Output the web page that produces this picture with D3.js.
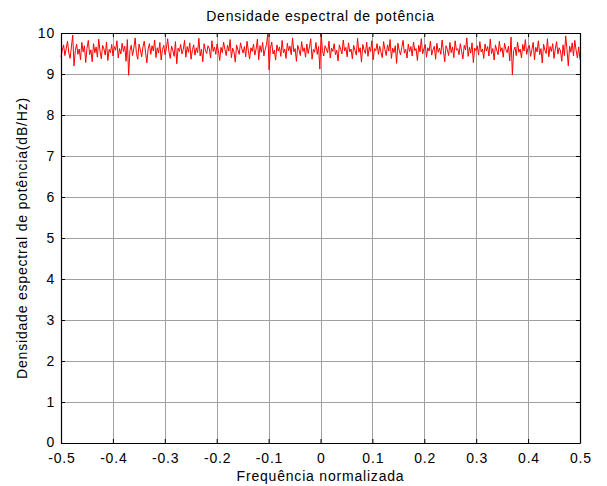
<!DOCTYPE html>
<html><head><meta charset="utf-8">
<script src="https://cdn.jsdelivr.net/npm/d3@7"></script>
<style>
body{margin:0;background:#fff;}
text{font-family:"Liberation Sans",Arial,sans-serif;}
</style></head>
<body><svg id="c" width="607" height="486"></svg>
<script>
const titleText = "Densidade espectral de potência";
const xLabel = "Frequência normalizada";
const yLabel = "Densidade espectral de potência(dB/Hz)";
const xTicks = [-0.5,-0.4,-0.3,-0.2,-0.1,0,0.1,0.2,0.3,0.4,0.5];
const yTicks = [0,1,2,3,4,5,6,7,8,9,10];
const xDomain = [-0.5, 0.5];
const yDomain = [0, 10];
const psd = [
9.42,9.58,9.71,9.45,9.62,9.80,9.51,9.38,9.66,9.95,9.20,9.57,9.73,9.48,9.61,9.35,9.77,9.54,9.69,9.28,
9.63,9.82,9.47,9.59,9.30,9.74,9.52,9.66,9.41,9.85,9.56,9.37,9.70,9.61,9.46,9.78,9.33,9.60,9.52,9.72,
9.44,9.67,9.58,9.81,9.39,9.62,9.49,9.75,9.55,9.68,9.31,9.84,8.97,9.57,9.70,9.45,9.63,9.88,9.50,9.36,
9.73,9.59,9.42,9.66,9.80,9.53,9.27,9.61,9.74,9.48,9.69,9.56,9.83,9.40,9.64,9.51,9.77,9.34,9.60,9.70,
9.47,9.62,9.86,9.54,9.38,9.68,9.57,9.43,9.79,9.25,9.63,9.55,9.72,9.49,9.60,9.82,9.41,9.67,9.53,9.76,
9.36,9.59,9.71,9.46,9.64,9.52,9.87,9.44,9.61,9.30,9.74,9.58,9.50,9.69,9.62,9.39,9.81,9.55,9.66,9.48,
9.73,9.57,9.33,9.65,9.52,9.78,9.60,9.45,9.70,9.56,9.84,9.40,9.63,9.54,9.29,9.71,9.59,9.48,9.76,9.62,
9.51,9.67,9.42,9.80,9.58,9.37,9.64,9.55,9.73,9.46,9.61,9.85,9.35,9.69,9.53,9.77,9.44,9.60,9.72,10.00,
9.10,9.63,9.78,9.49,9.58,9.34,9.71,9.56,9.66,9.43,9.82,9.52,9.61,9.38,9.75,9.57,9.68,9.47,9.88,9.54,
9.62,9.31,9.70,9.59,9.45,9.79,9.55,9.64,9.41,9.73,9.50,9.66,9.86,9.36,9.60,9.53,9.77,9.48,9.67,9.12,
10.00,9.57,9.44,9.69,9.61,9.52,9.80,9.39,9.63,9.55,9.74,9.47,9.58,9.32,9.71,9.60,9.49,9.83,9.56,9.65,
9.42,9.76,9.54,9.61,9.37,9.70,9.58,9.46,9.87,9.53,9.64,9.29,9.72,9.59,9.50,9.78,9.43,9.66,9.55,9.81,
9.35,9.62,9.57,9.74,9.48,9.68,9.53,9.40,9.79,9.60,9.45,9.71,9.56,9.84,9.38,9.63,9.52,9.69,9.26,9.75,
9.58,9.47,9.65,9.82,9.51,9.60,9.39,9.73,9.55,9.67,9.44,9.78,9.57,9.62,9.33,9.70,9.54,9.86,9.49,9.61,
9.72,9.41,9.64,9.56,9.80,9.46,9.59,9.68,9.36,9.75,9.53,9.63,9.48,9.83,9.57,9.30,9.69,9.60,9.45,9.77,
9.52,9.66,9.40,9.81,9.58,9.62,9.47,9.74,9.55,9.37,9.70,9.59,9.88,9.43,9.65,9.51,9.76,9.28,9.63,9.57,
9.69,9.46,9.79,9.54,9.61,9.38,9.73,9.56,9.67,9.44,9.85,9.50,9.62,9.34,9.71,9.58,9.47,9.80,9.55,9.64,
9.41,9.75,9.60,9.52,9.68,9.32,9.90,8.98,9.57,9.66,9.45,9.78,9.53,9.61,9.39,9.72,9.56,9.84,9.48,9.63,
9.70,9.43,9.59,9.77,9.35,9.65,9.54,9.81,9.47,9.62,9.27,9.73,9.58,9.50,9.86,9.42,9.67,9.55,9.74,9.38,
9.61,9.79,9.49,9.64,9.56,9.31,9.71,9.45,9.93,9.60,9.20,9.68,9.53,9.76,9.44,9.82,9.58,9.39,9.66,9.35
];

const svg = d3.select("#c");
const L = 61, R = 580, T = 33, B = 443;
const FS = 14, LS = 0.8;
const x = d3.scaleLinear().domain(xDomain).range([L, R]);
const y = d3.scaleLinear().domain(yDomain).range([B, T]);
const n = psd.length;
const freq = psd.map((v, i) => xDomain[0] + (xDomain[1] - xDomain[0]) * i / (n - 1));

// grid
const g = svg.append("g");
g.selectAll(".vg").data(xTicks.slice(1, -1)).join("line")
  .attr("x1", d => Math.round(x(d)) + 0.5).attr("x2", d => Math.round(x(d)) + 0.5)
  .attr("y1", T).attr("y2", B).attr("stroke", "#a0a0a0").attr("stroke-width", 1);
g.selectAll(".hg").data(yTicks.slice(1, -1)).join("line")
  .attr("y1", d => Math.round(y(d)) + 0.5).attr("y2", d => Math.round(y(d)) + 0.5)
  .attr("x1", L).attr("x2", R).attr("stroke", "#a0a0a0").attr("stroke-width", 1);

// line
svg.append("path").datum(psd)
  .attr("fill", "none").attr("stroke", "#ff0000").attr("stroke-width", 1)
  .attr("d", d3.line().x((d, i) => x(freq[i])).y(d => y(d)));

// axes (inward ticks on all sides)
const axB = svg.append("g").attr("transform", `translate(0,${B})`)
  .call(d3.axisBottom(x).tickValues(xTicks).tickSizeInner(-4).tickSizeOuter(0).tickPadding(10).tickFormat(d => String(d)));
const axT = svg.append("g").attr("transform", `translate(0,${T})`)
  .call(d3.axisTop(x).tickValues(xTicks).tickSizeInner(-4).tickSizeOuter(0).tickFormat(""));
const axL = svg.append("g").attr("transform", `translate(${L},0)`)
  .call(d3.axisLeft(y).tickValues(yTicks).tickSizeInner(-4).tickSizeOuter(0).tickPadding(6).tickFormat(d => String(d)));
const axR = svg.append("g").attr("transform", `translate(${R},0)`)
  .call(d3.axisRight(y).tickValues(yTicks).tickSizeInner(-4).tickSizeOuter(0).tickFormat(""));
[axB, axT, axL, axR].forEach(a => {
  a.selectAll("path.domain").attr("stroke", "#000").attr("stroke-width", 1.2);
  a.selectAll(".tick line").attr("stroke", "#000");
  a.selectAll(".tick text").attr("font-size", FS).attr("fill", "#000").attr("letter-spacing", LS)
   .attr("font-family", "'Liberation Sans', Arial, sans-serif");
});
axB.selectAll(".tick text").attr("dx", LS / 2);
axL.selectAll(".tick text").filter(d => d === 0).attr("dy", "0.22em");

svg.append("text").attr("x", (L + R) / 2).attr("y", 21).attr("text-anchor", "middle")
  .attr("font-size", FS).attr("letter-spacing", LS).text(titleText);
svg.append("text").attr("x", (L + R) / 2).attr("y", 481).attr("text-anchor", "middle")
  .attr("font-size", FS).attr("letter-spacing", LS).text(xLabel);
svg.append("text").attr("transform", `translate(27,${(T + B) / 2}) rotate(-90)`)
  .attr("text-anchor", "middle").attr("font-size", FS).attr("letter-spacing", LS).text(yLabel);
</script></body></html>
